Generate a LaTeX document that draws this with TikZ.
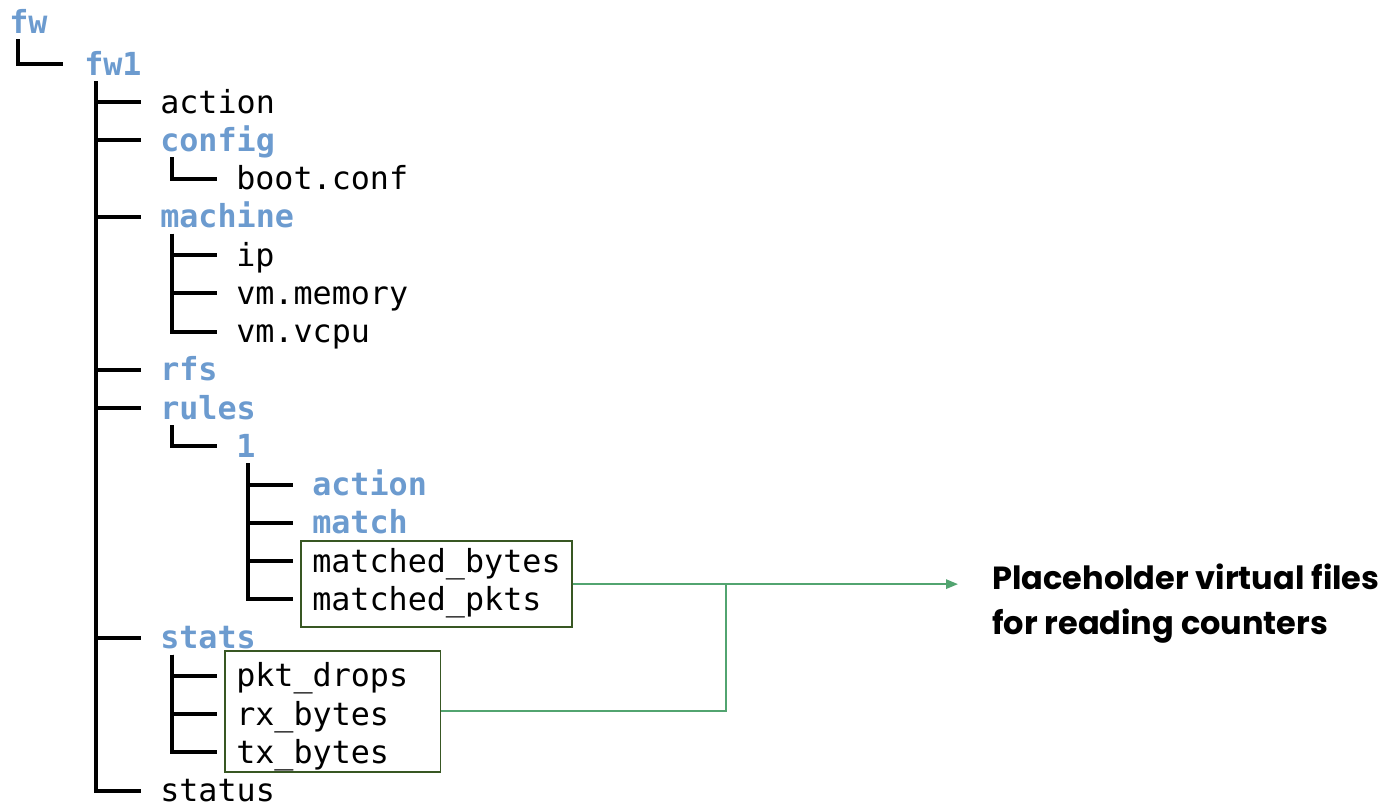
\documentclass[tikz,border=0pt]{standalone}
\usepackage{fontspec}
\usetikzlibrary{arrows.meta,fit}
\newfontfamily\treefont{DejaVu Sans Mono}
\newfontfamily\notefont{Poppins}
\definecolor{dirblue}{RGB}{108,155,207}
\definecolor{boxgreen}{RGB}{56,87,35}
\definecolor{linkgreen}{RGB}{82,164,112}
\tikzset{
  entry/.style={anchor=west, inner sep=0pt, text height=21pt, text depth=4.2pt,
    font=\treefont\fontsize{23.8}{28}\selectfont},
  dir/.style={entry, text=dirblue, font=\treefont\bfseries\fontsize{23.8}{28}\selectfont},
  tree/.style={line width=3pt, line join=miter},
  counters/.style={draw=boxgreen, line width=1.4pt, inner xsep=8pt, inner ysep=2pt},
  link/.style={draw=linkgreen, line width=1.5pt},
  note/.style={anchor=west, inner sep=0pt, align=left,
    font=\notefont\bfseries\fontsize{24}{33.75}\selectfont},
}
\begin{document}
\begin{tikzpicture}[x=0.75pt, y=-0.75pt]
  \useasboundingbox (0,0) rectangle (1391,804);

  % root
  \node[dir] (fw) at (9,22) {fw};
  \node[dir] (fwone) at (84,64) {fw1};

  % fw1 entries
  \node[entry] (action) at (160,102) {action};
  \node[dir] (config) at (160,140.25) {config};
  \node[entry] (boot) at (236,178.5) {boot.conf};
  \node[dir] (machine) at (160,216.75) {machine};
  \node[entry] (ip) at (236,255) {ip};
  \node[entry] (vmmem) at (236,293.25) {vm.memory};
  \node[entry] (vmcpu) at (236,331.5) {vm.vcpu};
  \node[dir] (rfs) at (160,369.75) {rfs};
  \node[dir] (rules) at (160,408) {rules};
  \node[dir] (ruleone) at (236,446.25) {1};
  \node[dir] (ruleact) at (312,484.5) {action};
  \node[dir] (rulematch) at (312,522.75) {match};
  \node[entry] (mbytes) at (312,561) {matched\_bytes};
  \node[entry] (mpkts) at (312,599.25) {matched\_pkts};
  \node[dir] (stats) at (160,637.5) {stats};
  \node[entry] (drops) at (236,675.75) {pkt\_drops};
  \node[entry] (rx) at (236,714) {rx\_bytes};
  \node[entry] (tx) at (236,752.25) {tx\_bytes};
  \node[entry] (status) at (160,790.5) {status};

  % tree lines
  \draw[tree] ([xshift=7pt]fw.south west) |- ([xshift=-16pt]fwone.west);
  \draw[tree] ([xshift=9pt]fwone.south west) |- ([xshift=-14pt]action.west);
  \draw[tree] ([xshift=9pt]fwone.south west) |- ([xshift=-14pt]config.west);
  \draw[tree] ([xshift=9pt]fwone.south west) |- ([xshift=-14pt]machine.west);
  \draw[tree] ([xshift=9pt]fwone.south west) |- ([xshift=-14pt]rfs.west);
  \draw[tree] ([xshift=9pt]fwone.south west) |- ([xshift=-14pt]rules.west);
  \draw[tree] ([xshift=9pt]fwone.south west) |- ([xshift=-14pt]stats.west);
  \draw[tree] ([xshift=9pt]fwone.south west) |- ([xshift=-14pt]status.west);
  \draw[tree] ([xshift=9pt]config.south west) |- ([xshift=-14pt]boot.west);
  \draw[tree] ([xshift=9pt]machine.south west) |- ([xshift=-14pt]ip.west);
  \draw[tree] ([xshift=9pt]machine.south west) |- ([xshift=-14pt]vmmem.west);
  \draw[tree] ([xshift=9pt]machine.south west) |- ([xshift=-14pt]vmcpu.west);
  \draw[tree] ([xshift=9pt]rules.south west) |- ([xshift=-14pt]ruleone.west);
  \draw[tree] ([xshift=9pt]ruleone.south west) |- ([xshift=-14pt]ruleact.west);
  \draw[tree] ([xshift=9pt]ruleone.south west) |- ([xshift=-14pt]rulematch.west);
  \draw[tree] ([xshift=9pt]ruleone.south west) |- ([xshift=-14pt]mbytes.west);
  \draw[tree] ([xshift=9pt]ruleone.south west) |- ([xshift=-14pt]mpkts.west);
  \draw[tree] ([xshift=9pt]stats.south west) |- ([xshift=-14pt]drops.west);
  \draw[tree] ([xshift=9pt]stats.south west) |- ([xshift=-14pt]rx.west);
  \draw[tree] ([xshift=9pt]stats.south west) |- ([xshift=-14pt]tx.west);

  % counter boxes
  \coordinate (rulelow) at ([yshift=-6pt]mpkts.south);
  \coordinate (stattop) at ([yshift=4pt]drops.north);
  \coordinate (statright) at ([xshift=16pt]drops.east);
  \node[counters, fit=(mbytes)(mpkts)(rulelow)] (rulebox) {};
  \node[counters, fit=(drops)(tx)(stattop)(statright)] (statbox) {};

  % note
  \node[note] (note) at (992,604) {Placeholder virtual files\\for reading counters};
  \coordinate (tip) at (958,585);
  \coordinate (joint) at (726,585);
  \draw[link, -{Triangle[length=9pt,width=7pt]}] (rulebox.east) -- (rulebox.east -| tip);
  \draw[link] (statbox.east) -| (rulebox.east -| joint);
\end{tikzpicture}
\end{document}
